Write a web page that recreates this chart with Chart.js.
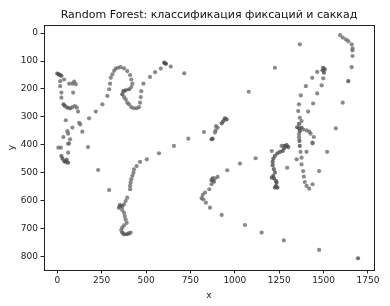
<!DOCTYPE html>
<html>
<head>
<meta charset="utf-8">
<script src="https://cdn.jsdelivr.net/npm/chart.js@4.4.1/dist/chart.umd.min.js"></script>
<style>
  html, body { margin: 0; padding: 0; background: #fff; }
  #wrap { width: 390px; height: 306px; }
</style>
</head>
<body>
<div id="wrap"><canvas id="scatter-chartcanvas" width="390" height="306"></canvas></div>
<script>
var xTicks = [0, 250, 500, 750, 1000, 1250, 1500, 1750];
var yTicks = [0, 100, 200, 300, 400, 500, 600, 700, 800];

// fixations (darker points)
var fixX = [0, 8, 16, 23, 35, 43, 57, 72, 404, 385, 372, 366, 602, 607, 612,
  944, 954, 935, 926, 869, 875, 869, 882, 875, 23, 29, 38, 48, 61, 53,
  353, 366, 348, 366, 376, 391, 404, 1498, 1507, 1494, 1502, 1639,
  1362, 1351, 1362, 1376, 1366, 1364, 1366, 1277, 1292, 1301, 1288,
  1277, 1270, 1255, 1240, 1226, 1217, 1213, 1213, 1220, 1226, 1217, 1208,
  1220, 1232, 1235, 1232, 1226, 1240, 1694];
var fixY = [145, 148, 150, 153, 255, 261, 267, 269, 201, 205, 208, 219, 106, 108, 110,
  305, 309, 315, 323, 380, 378, 527, 532, 520, 440, 449, 458, 461, 464, 454,
  616, 619, 625, 714, 720, 720, 717, 124, 130, 133, 142, 172,
  325, 337, 341, 339, 351, 386, 404, 404, 401, 408, 406,
  413, 422, 425, 430, 439, 449, 461, 473, 487, 499, 511, 517,
  520, 529, 535, 547, 553, 553, 806];

// saccades (lighter points)
var sacX = [38, 16, 67, 95, 104, 85, 16, 23, 89, 23, 85, 99, 110, 117,
  48, 123, 129, 85, 57, 61, 141, 34, 72, 61, 20, 6, 173, 66, 61,
  179, 217, 254, 282, 292, 297, 301, 310, 320, 329, 342, 357, 376, 394, 410, 417, 423, 417,
  376, 385, 394, 404, 417, 432, 447, 460, 466, 470, 473, 485, 522, 551, 583, 639, 715,
  1078, 894, 903, 892, 888, 826, 738, 657, 573, 504, 466, 447,
  432, 429, 423, 417, 413, 410, 410, 394, 385, 376, 366, 376, 380, 385, 391, 376, 366, 360, 413,
  230, 292,
  1593, 1608, 1626, 1639, 1658, 1663, 1663, 1663, 1658, 1608, 1569, 1366, 1226,
  1464, 1498, 1436, 1489, 1400, 1464, 1372, 1441, 1361, 1357, 1413, 1366, 1376,
  1385, 1404, 1419, 1427, 1445, 1362, 1362, 1438,
  1370, 1376, 1376, 1385, 1389, 1394, 1404, 1419, 1438, 1348, 1404, 1438, 1520, 1475, 1295,
  1208, 1263, 1151, 1276, 1475, 1029, 957, 1117,
  903, 888, 856, 832, 819, 813, 822, 837, 860, 926, 1057, 869];
var sacY = [166, 172, 181, 174, 183, 181, 190, 213, 213, 231, 265, 261, 267, 281,
  312, 321, 327, 338, 351, 360, 353, 372, 380, 396, 410, 410, 408, 395, 428,
  305, 281, 255, 225, 201, 181, 160, 148, 135, 127, 124, 122, 126, 136, 150, 166, 181, 193,
  229, 237, 249, 255, 265, 269, 269, 265, 249, 229, 208, 181, 157, 140, 127, 120, 144,
  210, 333, 338, 348, 356, 354, 378, 404, 430, 452, 461, 476,
  488, 500, 511, 523, 535, 547, 559, 589, 601, 613, 633, 643, 655, 667, 679, 688, 696, 705, 714,
  490, 562,
  7, 16, 23, 29, 40, 55, 62, 82, 122, 249, 341, 40, 124,
  139, 162, 160, 187, 190, 216, 223, 252, 255, 279, 281, 303, 315,
  345, 348, 353, 360, 372, 362, 374, 392,
  425, 446, 470, 494, 514, 533, 547, 557, 541, 452, 425, 395, 425, 494, 482,
  422, 404, 714, 742, 776, 467, 491, 448,
  515, 520, 559, 571, 579, 591, 595, 607, 625, 651, 687, 541];

function toPoints(xs, ys) {
  var pts = [];
  for (var i = 0; i < xs.length; i++) {
    pts.push({ x: xs[i], y: ys[i] });
  }
  return pts;
}

var frame = {
  id: "frame",
  afterDraw: function (chart) {
    var a = chart.chartArea;
    var c = chart.ctx;
    c.save();
    c.strokeStyle = "#222";
    c.lineWidth = 1;
    c.strokeRect(Math.round(a.left) + 0.5, Math.round(a.top) + 0.5,
      Math.round(a.right - a.left), Math.round(a.bottom - a.top));
    c.restore();
  }
};

var tickFont = { family: "DejaVu Sans", size: 9 };

var ctx = document.getElementById("scatter-chartcanvas");

var chart = new Chart(ctx, {
  type: "scatter",
  data: {
    datasets: [
      {
        label: "Саккада",
        data: toPoints(sacX, sacY),
        pointRadius: 2.1,
        pointBorderWidth: 0,
        backgroundColor: "rgba(105,105,105,0.78)"
      },
      {
        label: "Фиксация",
        data: toPoints(fixX, fixY),
        pointRadius: 2.1,
        pointBorderWidth: 0,
        backgroundColor: "rgba(75,75,75,0.8)"
      }
    ]
  },
  plugins: [frame],
  options: {
    responsive: false,
    animation: false,
    layout: { padding: { left: 0, right: 16, top: 0, bottom: 0 } },
    plugins: {
      legend: { display: false },
      tooltip: { enabled: false },
      title: {
        display: true,
        fullSize: false,
        text: "Random Forest: классификация фиксаций и саккад",
        color: "#111",
        font: { family: "DejaVu Sans", size: 11, weight: "normal" },
        padding: { top: 8.5, bottom: 3.3 }
      }
    },
    scales: {
      x: {
        type: "linear",
        min: -75,
        max: 1784,
        afterBuildTicks: function (scale) {
          scale.ticks = xTicks.map(function (v) { return { value: v }; });
        },
        afterFit: function (scale) { scale.height = 36; },
        grid: { drawOnChartArea: false, drawTicks: true, tickLength: 3.5, color: "#222" },
        border: { display: true, color: "#222" },
        ticks: {
          color: "#222", font: tickFont, padding: 2, maxRotation: 0,
          callback: function (v) { return String(v); }
        },
        title: { display: true, text: "x", color: "#222", font: tickFont, padding: { top: 0, bottom: 5 } }
      },
      y: {
        type: "linear",
        reverse: true,
        min: -29,
        max: 848,
        afterBuildTicks: function (scale) {
          scale.ticks = yTicks.map(function (v) { return { value: v }; });
        },
        afterFit: function (scale) { scale.width = 44; },
        grid: { drawOnChartArea: false, drawTicks: true, tickLength: 3.5, color: "#222" },
        border: { display: true, color: "#222" },
        ticks: {
          color: "#222", font: tickFont, padding: 2.5,
          callback: function (v) { return String(v); }
        },
        title: { display: true, text: "y", color: "#222", font: tickFont, padding: { top: 6, bottom: 0 } }
      }
    }
  }
});
</script>
</body>
</html>
